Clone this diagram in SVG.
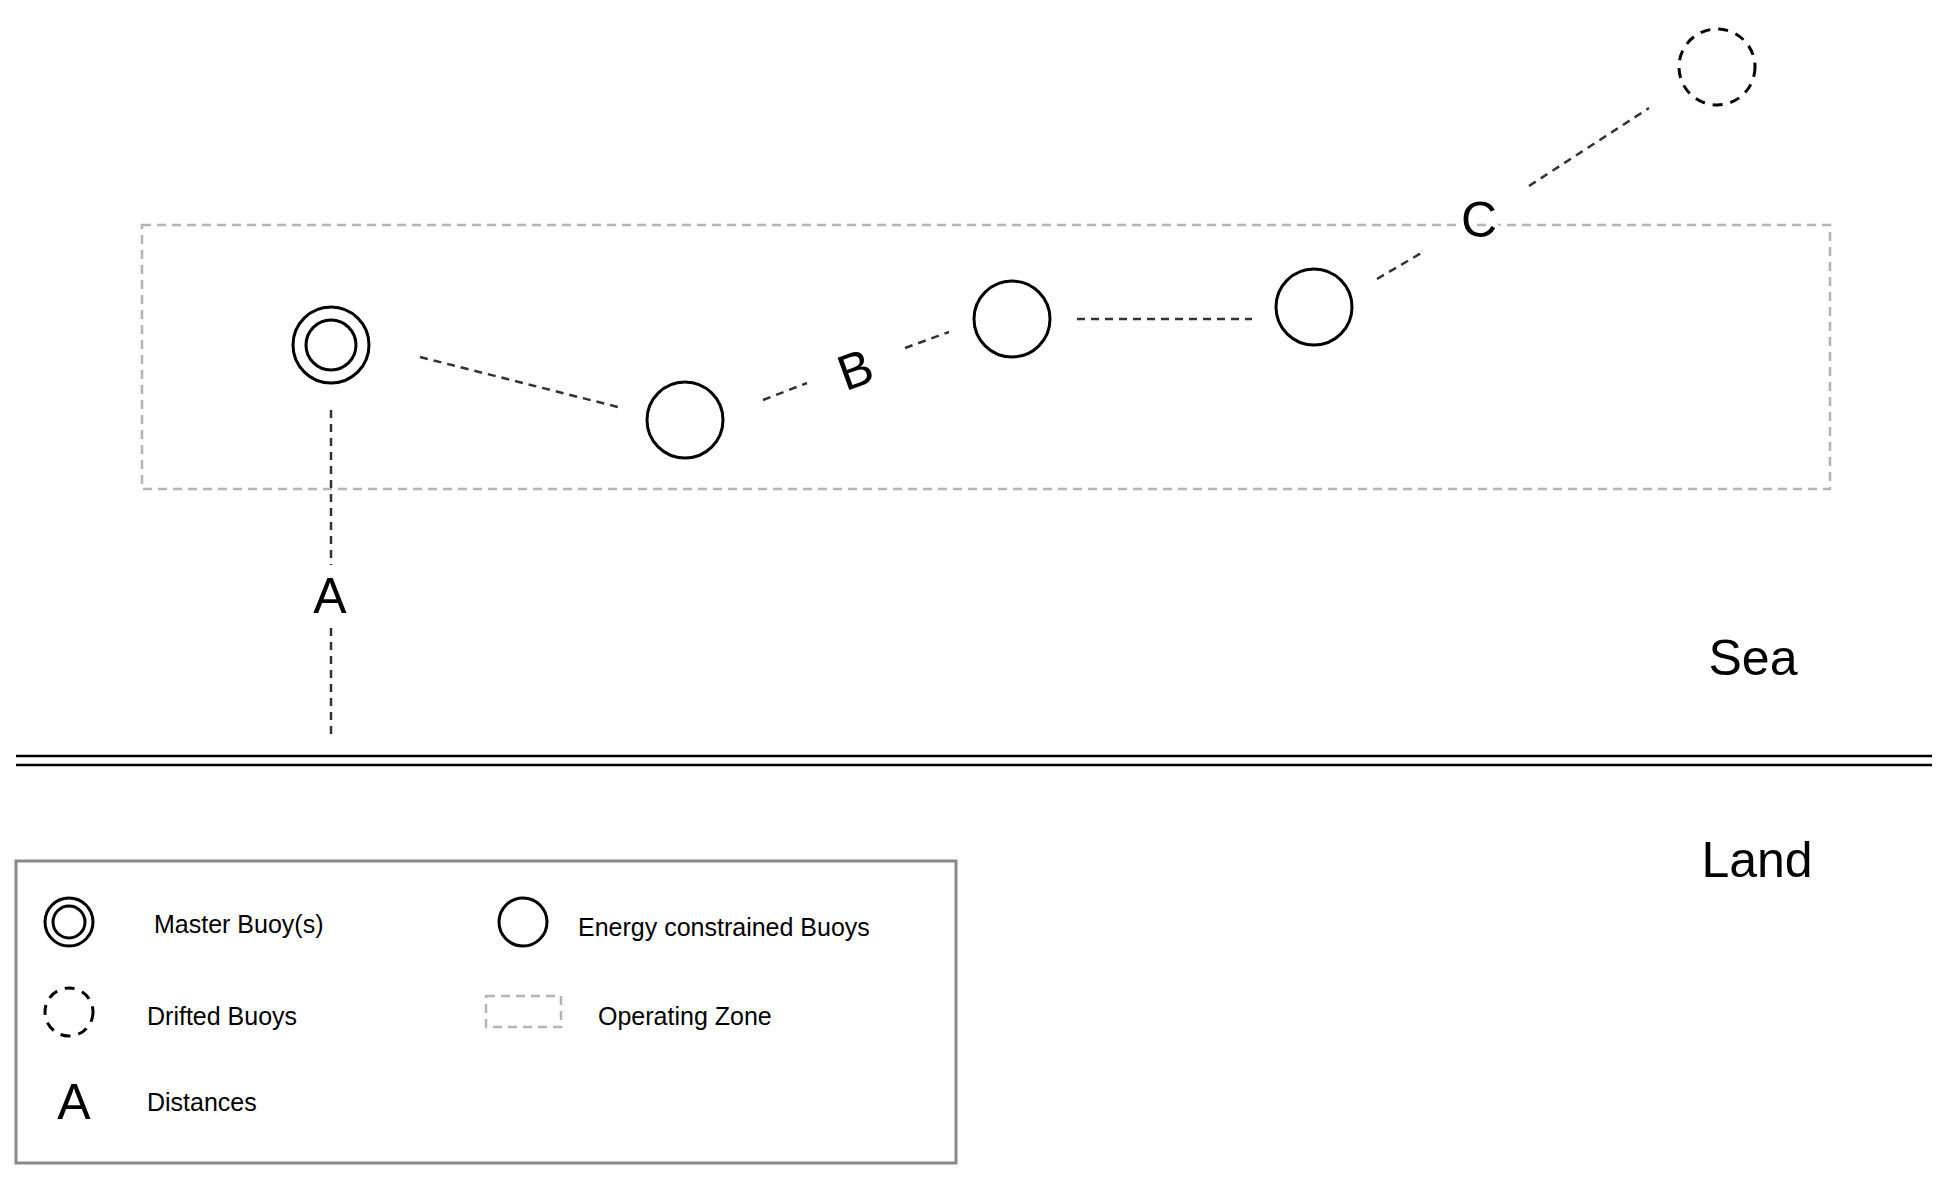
<svg xmlns="http://www.w3.org/2000/svg" width="1952" height="1179" viewBox="0 0 1952 1179">
<style>
  .buoy{fill:none;stroke:#000;stroke-width:3}
  .drift{fill:none;stroke:#000;stroke-width:3;stroke-dasharray:10 8}
  .zone{fill:none;stroke:#b5b5b5;stroke-width:2.5;stroke-dasharray:9 6}
  .conn{fill:none;stroke:#333;stroke-width:2.5;stroke-dasharray:8 6}
  .shore{stroke:#000;stroke-width:2.5}
  .big{font-family:"Liberation Sans",Arial,sans-serif;font-size:50px;fill:#000}
  .lbl{font-family:"Liberation Sans",Arial,sans-serif;font-size:25px;fill:#000}
</style>
<rect width="1952" height="1179" fill="#fff"/>

<g id="operating-zone">
  <rect class="zone" x="142" y="225" width="1688" height="264"/>
</g>

<g id="connectors">
  <line class="conn" x1="420" y1="357" x2="618" y2="407"/>
  <line class="conn" x1="763" y1="400" x2="807" y2="383"/>
  <line class="conn" x1="905" y1="348" x2="949" y2="332"/>
  <line class="conn" x1="1077" y1="319" x2="1252" y2="319"/>
  <line class="conn" x1="1377" y1="279" x2="1423" y2="252"/>
  <line class="conn" x1="1529" y1="186" x2="1649" y2="108"/>
  <line class="conn" x1="331" y1="410" x2="331" y2="565"/>
  <line class="conn" x1="331" y1="628" x2="331" y2="735"/>
</g>

<g id="master-buoy">
  <circle class="buoy" cx="331" cy="345" r="38"/>
  <circle class="buoy" cx="331" cy="345" r="25"/>
</g>
<g id="buoy-1"><circle class="buoy" cx="685" cy="420" r="38"/></g>
<g id="buoy-2"><circle class="buoy" cx="1012" cy="319" r="38"/></g>
<g id="buoy-3"><circle class="buoy" cx="1314" cy="307" r="38"/></g>
<g id="drifted-buoy"><circle class="drift" cx="1717" cy="67" r="38"/></g>

<g id="distance-labels">
  <text class="big" x="330" y="613" text-anchor="middle">A</text>
  <text class="big" x="0" y="0" text-anchor="middle" transform="translate(855 369) rotate(-20) translate(0 18)">B</text>
  <text class="big" x="1479" y="237" text-anchor="middle" stroke="#fff" stroke-width="8" paint-order="stroke">C</text>
</g>

<g id="shoreline">
  <line class="shore" x1="16" y1="756" x2="1932" y2="756"/>
  <line class="shore" x1="16" y1="765" x2="1932" y2="765"/>
</g>

<g id="regions">
  <text class="big" x="1753" y="675" text-anchor="middle" font-size="49">Sea</text>
  <text class="big" x="1757" y="877" text-anchor="middle" font-size="49">Land</text>
</g>

<g id="legend">
  <rect x="16" y="861" width="940" height="302" fill="none" stroke="#888" stroke-width="3"/>
  <circle class="buoy" cx="69" cy="922" r="24"/>
  <circle class="buoy" cx="69" cy="922" r="16"/>
  <text class="lbl" x="154" y="933">Master Buoy(s)</text>
  <circle class="buoy" cx="523" cy="922" r="24"/>
  <text class="lbl" x="578" y="936">Energy constrained Buoys</text>
  <circle class="drift" cx="69" cy="1012" r="24" stroke-dasharray="7 9"/>
  <text class="lbl" x="147" y="1025">Drifted Buoys</text>
  <rect class="zone" x="486" y="996" width="75" height="31" stroke-dasharray="6 5"/>
  <text class="lbl" x="598" y="1025">Operating Zone</text>
  <text class="big" x="74" y="1119" text-anchor="middle" font-size="45">A</text>
  <text class="lbl" x="147" y="1111">Distances</text>
</g>
</svg>
